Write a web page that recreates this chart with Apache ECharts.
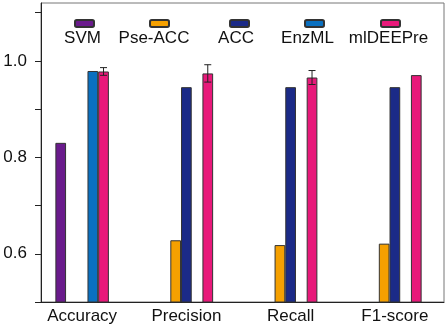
<!DOCTYPE html>
<html>
<head>
<meta charset="utf-8">
<script src="https://cdn.jsdelivr.net/npm/echarts@6/dist/echarts.min.js"></script>
<style>
  html, body { margin: 0; padding: 0; background: #fff; }
  #main { width: 447px; height: 330px; }
</style>
</head>
<body>
<div id="main"></div>
<script>
// 指标类别
const metrics = ['Accuracy', 'Precision', 'Recall', 'F1-score'];
// 各方法数值（'-' 表示没有柱子）
const svm = [0.83, '-', '-', '-'];
const pseAcc = ['-', 0.628, 0.618, 0.621];
const acc = ['-', 0.9455, 0.9455, 0.9455];
const enzml = [0.979, '-', '-', '-'];
const mldeepre = [0.978, 0.974, 0.9655, 0.9705];
// mlDEEPre 误差（F1-score 没有误差线）
const mldeepreErr = [0.008, 0.018, 0.0145, 0];
// 纵轴刻度
const yTicks = [0.5, 0.6, 0.7, 0.8, 0.9, 1.0, 1.1];
const yLabels = [0.6, 0.8, 1.0];

const names = ['SVM', 'Pse-ACC', 'ACC', 'EnzML', 'mlDEEPre'];
const colors = ['#6a1b8c', '#f5a000', '#1b2a87', '#0a70c0', '#e8197a'];
const seriesData = [svm, pseAcc, acc, enzml, mldeepre];

const font = 'Liberation Sans, Arial, sans-serif';
const barW = 10.7;

var chart = echarts.init(document.getElementById('main'));

// 柱子系列
let series = names.map(function (name, i) {
    return {
        name: name,
        type: 'bar',
        xAxisIndex: 1,
        yAxisIndex: 1,
        barWidth: barW,
        barGap: '0%',
        data: seriesData[i],
        itemStyle: { color: colors[i], borderColor: '#333', borderWidth: 1 }
    };
});

// 误差线
series.push({
    type: 'custom',
    xAxisIndex: 1,
    yAxisIndex: 1,
    z: 5,
    data: metrics.map(function (m, i) { return [i, mldeepre[i], mldeepreErr[i]]; }),
    renderItem: function (params, api) {
        let err = api.value(2);
        if (!err) return null;
        let v = api.value(1);
        let hi = api.coord([api.value(0), v + err]);
        let lo = api.coord([api.value(0), v - err]);
        let x = hi[0] + 2 * barW;
        let cap = 3.5;
        let st = { stroke: '#222', lineWidth: 1 };
        return {
            type: 'group',
            children: [
                { type: 'line', shape: { x1: x, y1: hi[1], x2: x, y2: lo[1] }, style: st },
                { type: 'line', shape: { x1: x - cap, y1: hi[1], x2: x + cap, y2: hi[1] }, style: st },
                { type: 'line', shape: { x1: x - cap, y1: lo[1], x2: x + cap, y2: lo[1] }, style: st }
            ]
        };
    }
});

// 图例：图标在上，文字在下
const legendIconX = [74, 149, 229, 304, 380];
const legendTextX = [82.5, 154, 236, 307.5, 388.5];
let legends = names.map(function (name, i) {
    return {
        data: [name],
        left: legendIconX[i],
        top: 19,
        padding: 0,
        itemWidth: 19,
        itemHeight: 7,
        selectedMode: false,
        formatter: function () { return ''; },
        textStyle: { fontSize: 1 }
    };
});
let texts = names.map(function (name, i) {
    return {
        type: 'text',
        x: legendTextX[i],
        y: 38,
        style: {
            text: name,
            fill: '#111',
            font: '17px ' + font,
            align: 'center',
            verticalAlign: 'middle'
        }
    };
});

var option = {
    animation: false,
    backgroundColor: '#fff',
    legend: legends,
    graphic: texts,
    grid: [
        { left: 41, right: 3, top: 3, bottom: 28, show: true, borderColor: '#777', borderWidth: 1 },
        { left: 30, width: 424, top: 3, bottom: 28 }
    ],
    xAxis: [
        {
            gridIndex: 0,
            type: 'category',
            data: metrics,
            axisLine: { lineStyle: { color: '#222', width: 1 } },
            axisTick: { show: false },
            axisLabel: { show: false }
        },
        {
            gridIndex: 1,
            type: 'category',
            data: metrics,
            axisLine: { show: false },
            axisTick: { show: false },
            axisLabel: { color: '#111', fontSize: 17, fontFamily: font, margin: 6 }
        }
    ],
    yAxis: [
        {
            gridIndex: 0,
            type: 'value',
            min: 0.5,
            max: 1.12,
            splitLine: { show: false },
            axisLine: { show: true, lineStyle: { color: '#222', width: 1 } },
            axisTick: { show: true, length: 6, customValues: yTicks, lineStyle: { color: '#222' } },
            axisLabel: {
                color: '#111', fontSize: 17, fontFamily: font, margin: 14,
                customValues: yLabels,
                formatter: function (v) { return v.toFixed(1); }
            }
        },
        {
            gridIndex: 1,
            type: 'value',
            min: 0.5,
            max: 1.12,
            show: false
        }
    ],
    series: series
};

chart.setOption(option);
</script>
</body>
</html>
